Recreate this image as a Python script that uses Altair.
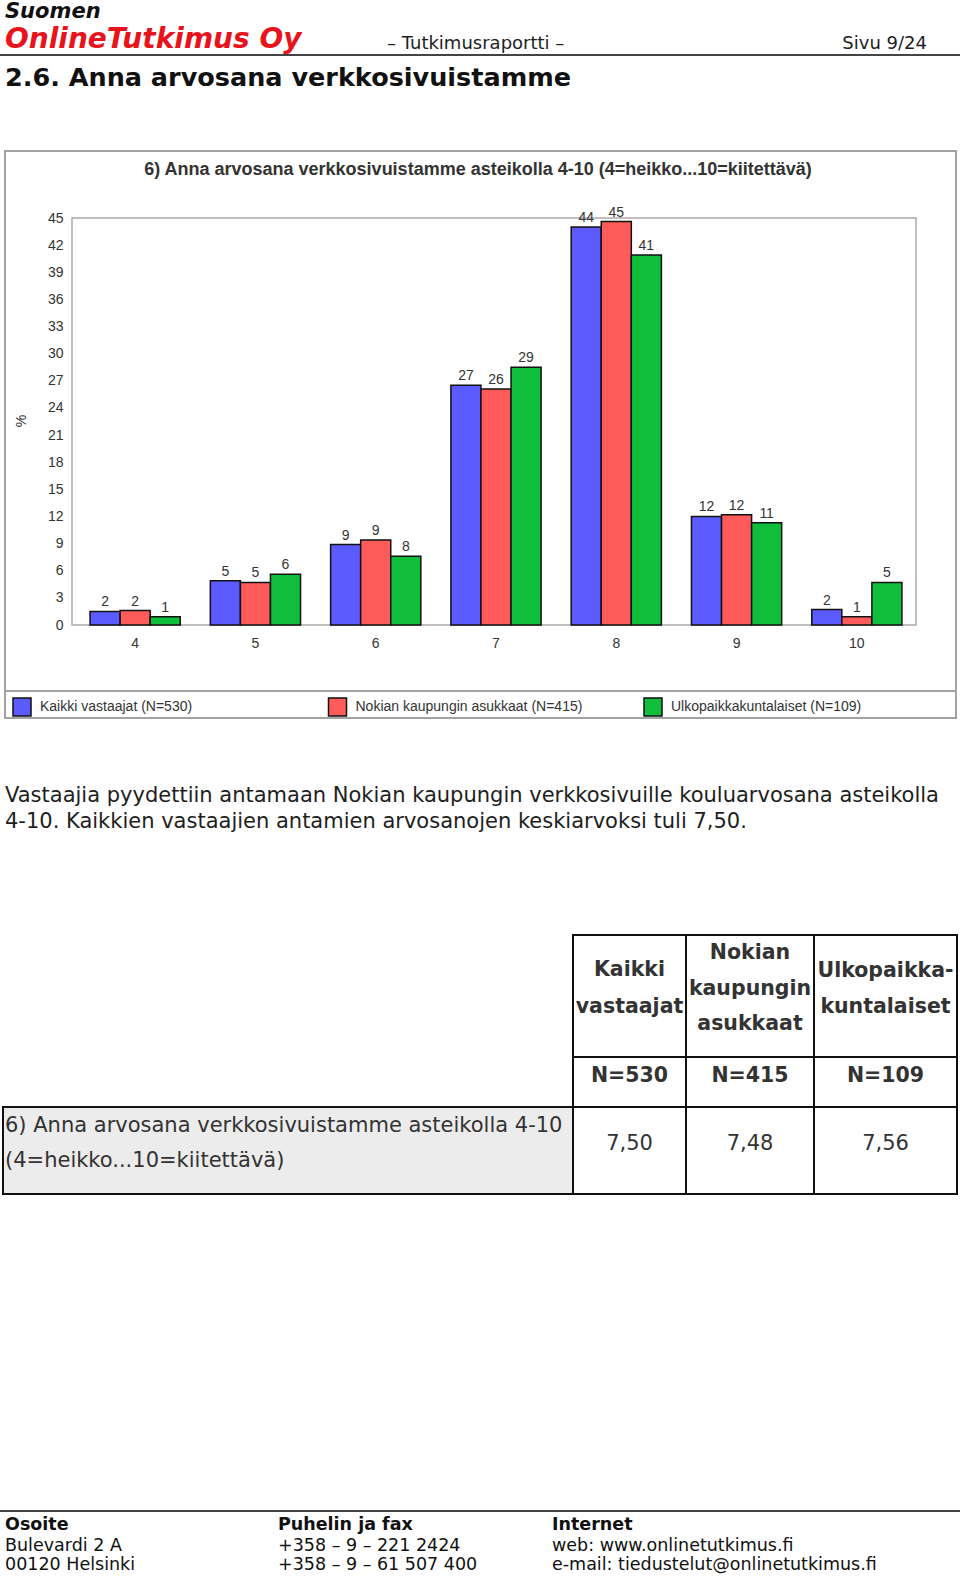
import altair as alt
import pandas as pd

# ---------------- data ----------------
grades = ["4", "5", "6", "7", "8", "9", "10"]
series = ["Kaikki vastaajat (N=530)", "Nokian kaupungin asukkaat (N=415)", "Ulkopaikkakuntalaiset (N=109)"]
colors = ["#5b5bff", "#ff5b5b", "#0fbf3c"]
kaikki = [1.5, 4.9, 8.9, 26.5, 44.0, 12.0, 1.7]
nokian = [1.6, 4.7, 9.4, 26.1, 44.6, 12.2, 0.9]
ulko = [0.9, 5.6, 7.6, 28.5, 40.9, 11.3, 4.7]
kaikki_lbl = ["2", "5", "9", "27", "44", "12", "2"]
nokian_lbl = ["2", "5", "9", "26", "45", "12", "1"]
ulko_lbl = ["1", "6", "8", "29", "41", "11", "5"]
y_ticks = list(range(0, 46, 3))

table_head = [["Kaikki", "vastaajat"], ["Nokian", "kaupungin", "asukkaat"], ["Ulkopaikka-", "kuntalaiset"]]
table_n = ["N=530", "N=415", "N=109"]
table_val = ["7,50", "7,48", "7,56"]

rows = []
for vals, lbls, s in [(kaikki, kaikki_lbl, series[0]), (nokian, nokian_lbl, series[1]), (ulko, ulko_lbl, series[2])]:
    for g, v, l in zip(grades, vals, lbls):
        rows.append({"grade": g, "series": s, "value": v, "label": l})
df = pd.DataFrame(rows)
one = pd.DataFrame({"_": [0]})

# ---------------- fonts ----------------
VER = "DejaVu Sans"
ARI = "Liberation Sans"
NAR = "Liberation Sans Narrow, Liberation Sans"
INK = "#1e1e1e"

layers = []

def txt(s, x, y, size, font=VER, weight="normal", style="normal", color=INK, align="left", baseline="alphabetic", angle=0):
    layers.append(
        alt.Chart(one).mark_text(text=s, fontSize=size, font=font, fontWeight=weight, fontStyle=style,
                                 color=color, align=align, baseline=baseline, angle=angle)
        .encode(x=alt.value(x), y=alt.value(y))
    )

def box(x1, y1, x2, y2, stroke, fill="transparent", sw=2):
    layers.append(
        alt.Chart(one).mark_rect(fill=fill, stroke=stroke, strokeWidth=sw)
        .encode(x=alt.value(x1), x2=alt.value(x2), y=alt.value(y1), y2=alt.value(y2))
    )

def hline(x1, x2, y, color, sw=2):
    layers.append(
        alt.Chart(one).mark_rule(color=color, strokeWidth=sw)
        .encode(x=alt.value(x1), x2=alt.value(x2), y=alt.value(y))
    )

# ---------------- page header ----------------
txt("Suomen", 5, 18, 21, weight="bold", style="italic", color="#111")
txt("OnlineTutkimus Oy", 5, 48, 28, weight="bold", style="italic", color="#e8131b")
txt("– Tutkimusraportti –", 387, 49, 18, color=INK)
txt("Sivu 9/24", 927, 49, 18, color=INK, align="right")
hline(0, 960, 55, "#444", 2)
txt("2.6. Anna arvosana verkkosivuistamme", 5, 86, 25.5, weight="bold", color="#111")

# ---------------- chart frame ----------------
box(5, 151, 956, 718, "#a3a3a3", fill="white", sw=2)
hline(6, 955, 691, "#a3a3a3", 2)
txt("6) Anna arvosana verkkosivuistamme asteikolla 4-10 (4=heikko...10=kiitettävä)", 478, 175, 18,
    font=NAR, weight="bold", color="#333", align="center")
box(72, 218, 916, 625, "#aaaaaa", fill="white", sw=1.5)
txt("%", 22, 421, 14, font=ARI, color="#333", align="center", baseline="middle", angle=270)

# ---------------- bars ----------------
xscale = alt.Scale(domain=grades, range=[75, 917], paddingInner=0.25, paddingOuter=0.125)
yscale = alt.Scale(domain=[0, 45], range=[625, 218], nice=False, zero=True)

base = alt.Chart(df).encode(
    x=alt.X("grade:N", sort=grades, scale=xscale, title=None,
            axis=alt.Axis(orient="bottom", offset=-951, domain=False, ticks=False, grid=False,
                          labelAngle=0, labelPadding=11, labelFont=ARI, labelFontSize=14,
                          labelColor="#333", zindex=2)),
    xOffset=alt.XOffset("series:N", sort=series, scale=alt.Scale(paddingInner=0, paddingOuter=0)),
    y=alt.Y("value:Q", scale=yscale, title=None,
            axis=alt.Axis(orient="left", offset=-72, values=y_ticks, domain=False, ticks=False,
                          grid=False, labelPadding=9, labelFont=ARI, labelFontSize=14,
                          labelColor="#333", labelBaseline="middle", zindex=2)),
)

bars = base.mark_bar(stroke="#111", strokeWidth=1.5).encode(
    color=alt.Color("series:N", sort=series, scale=alt.Scale(domain=series, range=colors), title=None,
                    legend=alt.Legend(orient="none", legendX=12, legendY=697, direction="horizontal",
                                      columns=3, gridAlign="all", columnPadding=58.5, padding=0,
                                      symbolType="square", symbolSize=324, symbolStrokeColor="#111",
                                      symbolStrokeWidth=1.5, symbolOpacity=1,
                                      labelFont=ARI, labelFontSize=14, labelColor="#333",
                                      labelOffset=8, labelLimit=400, zindex=2))
)
labels = base.mark_text(baseline="bottom", dy=-2, font=ARI, fontSize=14, color="#333").encode(
    text="label:N"
)

# ---------------- paragraph ----------------
txt("Vastaajia pyydettiin antamaan Nokian kaupungin verkkosivuille kouluarvosana asteikolla", 5, 802, 21, color=INK)
txt("4-10. Kaikkien vastaajien antamien arvosanojen keskiarvoksi tuli 7,50.", 5, 828, 21, color=INK)

# ---------------- table ----------------
cols = [(573, 686), (686, 814), (814, 957)]
box(3, 1107, 573, 1194, "#111", fill="#ececec", sw=2)
for (a, b) in cols:
    box(a, 935, b, 1057, "#111", sw=2)
    box(a, 1057, b, 1107, "#111", sw=2)
    box(a, 1107, b, 1194, "#111", sw=2)

head_baselines = [[976, 1013], [959, 995, 1030], [977, 1013]]
for (a, b), lines, bls in zip(cols, table_head, head_baselines):
    for ln, bl in zip(lines, bls):
        txt(ln, (a + b) / 2, bl, 20.5, weight="bold", color="#333", align="center")
for (a, b), n in zip(cols, table_n):
    txt(n, (a + b) / 2, 1082, 20.5, weight="bold", color="#333", align="center")
for (a, b), v in zip(cols, table_val):
    txt(v, (a + b) / 2, 1150, 21, color="#333", align="center")
txt("6) Anna arvosana verkkosivuistamme asteikolla 4-10", 5, 1132, 21, color="#333")
txt("(4=heikko...10=kiitettävä)", 5, 1167, 21, color="#333")

# ---------------- footer ----------------
hline(0, 960, 1511, "#444", 2)
footer = [
    (5, ["Osoite", "Bulevardi 2 A", "00120 Helsinki"]),
    (278, ["Puhelin ja fax", "+358 – 9 – 221 2424", "+358 – 9 – 61 507 400"]),
    (552, ["Internet", "web: www.onlinetutkimus.fi", "e-mail: tiedustelut@onlinetutkimus.fi"]),
]
for x, lines in footer:
    for i, (ln, bl) in enumerate(zip(lines, [1530, 1551, 1570])):
        txt(ln, x, bl, 17.5, weight="bold" if i == 0 else "normal", color="#111")

chart = alt.layer(*layers[:10], bars, labels, *layers[10:]).properties(
    width=960, height=1576, padding=0, autosize=alt.AutoSizeParams(type="none"),
    background="white"
).configure_view(stroke=None)

chart.save("out.html", embed_options={"renderer": "svg", "actions": False})
